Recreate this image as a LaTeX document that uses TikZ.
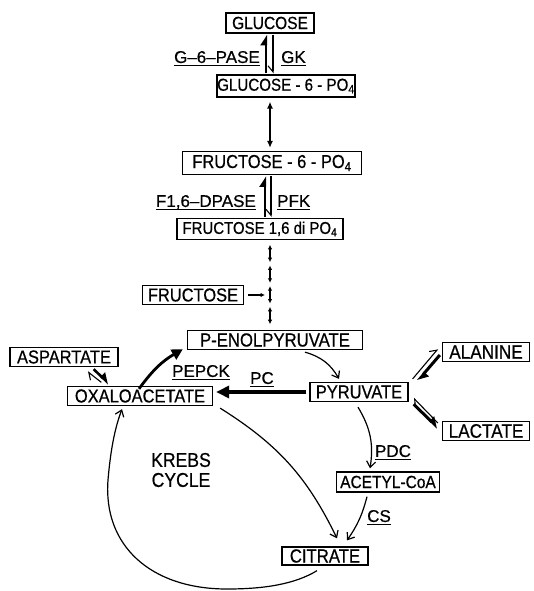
\documentclass[tikz,border=0pt]{standalone}
\usepackage{fontspec}
\setmainfont{Liberation Sans}[FakeStretch=0.88,FakeBold=0.6]
\newfontfamily\enzfont{Liberation Sans}[FakeBold=0.6]
\usetikzlibrary{arrows.meta,calc}
\begin{document}
\begin{tikzpicture}[x=1pt,y=-1pt,
  box/.style={draw,line width=1.3pt,inner sep=0pt,minimum height=20pt},
  fs/.style={font=\fontsize{#1}{#1}\selectfont},
  enz/.style={inner xsep=0pt,inner ysep=2.5pt,text depth=0pt,font=\enzfont\fontsize{17}{17}\selectfont,
    append after command={(\tikzlastnode.south west) edge[line width=1.2pt] (\tikzlastnode.south east)}},
  thinarr/.style={line width=1.2pt,-{Straight Barb[length=6pt,width=9pt,line width=1.2pt]}},
  thickarr/.style={line width=2.8pt,-{Triangle[length=11pt,width=11pt]}},
  bigarr/.style={line width=4.2pt,-{Triangle[length=13pt,width=12pt]}},
  dblarr/.style={line width=1.3pt,{Latex[length=7pt,width=6pt]}-{Latex[length=7pt,width=6pt]}},
  dotarr/.style={line width=1.3pt,{Latex[length=4.5pt,width=4.5pt]}-{Latex[length=4.5pt,width=4.5pt]}},
  smallarr/.style={line width=1.2pt,-{Latex[length=4.5pt,width=4.5pt]}},
  thickharp/.style={line width=2.9pt,-{Triangle[harpoon,length=9pt,width=11pt]}},
  thinharp/.style={line width=1.1pt,-{Straight Barb[harpoon,length=6pt,width=10pt,line width=1.1pt]}},
  thinharpsw/.style={line width=1.1pt,-{Straight Barb[harpoon,swap,length=6pt,width=10pt,line width=1.1pt]}}
]
\useasboundingbox (0,0) rectangle (534,591);

% metabolite boxes
\node[box,fs=17.6,minimum width=88pt] (glc) at (270,23) {GLUCOSE};
\node[box,fs=17.2,minimum width=138pt,minimum height=22pt] (g6p) at (286,86) {GLUCOSE - 6 - PO\textsubscript{4}};
\node[box,fs=18.7,minimum width=179pt,minimum height=23pt] (f6p) at (272,163) {FRUCTOSE - 6 - PO\textsubscript{4}};
\node[box,fs=17,minimum width=166pt,minimum height=21pt] (f16) at (260,229) {FRUCTOSE 1,6 di PO\textsubscript{4}};
\node[box,fs=18.7,minimum width=101pt,minimum height=19pt] (fru) at (193,295) {FRUCTOSE};
\node[box,fs=19,minimum width=175pt,minimum height=19pt] (pep) at (275,340) {P-ENOLPYRUVATE};
\node[box,fs=18.7,minimum width=108pt,minimum height=19pt] (asp) at (64,357) {ASPARTATE};
\node[box,fs=18.7,minimum width=145pt,minimum height=19pt] (oaa) at (140,396) {OXALOACETATE};
\node[box,fs=18.7,minimum width=98pt,minimum height=19pt] (pyr) at (359,392) {PYRUVATE};
\node[box,fs=19.5,minimum width=87pt,minimum height=19pt] (ala) at (486,352) {ALANINE};
\node[box,fs=19.5,minimum width=87pt,minimum height=19pt] (lac) at (486,431) {LACTATE};
\node[box,fs=17.6,minimum width=103pt,minimum height=20pt] (acc) at (388,482) {ACETYL-CoA};
\node[box,fs=19,minimum width=86pt,minimum height=18pt] (cit) at (325,556) {CITRATE};
\node[inner sep=0pt,align=center,font=\fontsize{20}{20}\selectfont] (krebs) at (181,470) {KREBS\\CYCLE};

% enzyme labels
\node[enz,anchor=east] (g6pase) at (260,57) {G–6–PASE};
\node[enz,anchor=west] (gk) at (281,57) {GK};
\node[enz,anchor=east] (fdp) at (256,201) {F1,6–DPASE};
\node[enz,anchor=west] (pfk) at (277,201) {PFK};
\node[enz] (pepck) at (201,371) {PEPCK};
\node[enz] (pc) at (262,378) {PC};
\node[enz] (pdc) at (393,451) {PDC};
\node[enz] (cs) at (379,516) {CS};

% glucose <-> glucose-6-P
\draw[thickharp,shorten <=1pt] ([xshift=-4pt]glc.south |- g6p.north) -- ([xshift=-4pt,yshift=-1pt]glc.south);
\draw[thinharpsw,shorten <=1pt] ([xshift=3pt]glc.south) -- ([xshift=3pt,yshift=1pt]glc.south |- g6p.north);

% G6P <-> F6P
\draw[dblarr,shorten <=4pt,shorten >=3pt] ([xshift=-16pt]g6p.south) -- ([xshift=-16pt]g6p.south |- f6p.north);

% F6P <-> F1,6diP
\draw[thickharp,shorten <=1pt] ([xshift=5pt]f16.north) -- ([xshift=5pt,yshift=-1pt]f16.north |- f6p.south);
\draw[thinharpsw,shorten <=1pt] ([xshift=11pt]f16.north |- f6p.south) -- ([xshift=11pt,yshift=1pt]f16.north);

% dotted chain F1,6diP ... PEP
\coordinate (dtop) at ([xshift=10pt,yshift=-3pt]f16.south);
\coordinate (dbot) at ([xshift=-5pt,yshift=4pt]pep.north);
\foreach \i [evaluate=\i as \a using \i/4+0.02, evaluate=\i as \b using (\i+1)/4-0.02] in {0,1,2,3}
  \draw[dotarr] ($(dtop)!\a!(dbot)$) -- ($(dtop)!\b!(dbot)$);
\draw[smallarr] ([xshift=4pt]fru.east) -- ([xshift=-5pt]fru.east -| dtop);

% oxaloacetate -> PEP
\draw[thickarr] ([xshift=-1pt,yshift=-3pt]oaa.north) to[bend left=12] ([xshift=-4pt,yshift=1pt]pep.south west);

% aspartate <-> oxaloacetate
\draw[thickharp,line width=2.6pt] ([xshift=-25pt,yshift=-2pt]asp.south east) -- ([xshift=42pt,yshift=2pt]oaa.north west);
\draw[thinharp] ([xshift=34.5pt,yshift=3.5pt]oaa.north west) -- ([xshift=-31pt,yshift=-4.5pt]asp.south east);

% pyruvate -> oxaloacetate
\draw[bigarr] ([xshift=-3pt]pyr.west) -- ([xshift=3pt]oaa.east |- pyr.west);

% PEP -> pyruvate
\draw[thinarr] ([xshift=30pt,yshift=-2pt]pep.south) to[bend left=22] ([xshift=-20pt,yshift=3pt]pyr.north);

% pyruvate <-> alanine
\draw[thinharp] ([xshift=4pt,yshift=3pt]pyr.north east) -- ([xshift=-4pt,yshift=3pt]ala.west);
\draw[thickharp,line width=3pt] ([xshift=-2pt,yshift=-3pt]ala.west) -- ([xshift=9pt,yshift=1pt]pyr.north east);

% pyruvate <-> lactate
\draw[thinharp] ([xshift=-4pt,yshift=8pt]lac.west) -- ([xshift=5pt,yshift=4pt]pyr.south east);
\draw[thickharp,line width=3pt] ([xshift=5pt,yshift=-2pt]pyr.south east) -- ([xshift=-4pt,yshift=3pt]lac.west);

% pyruvate -> acetyl-CoA
\draw[thinarr] ([xshift=-1pt,yshift=-5pt]pyr.south) to[bend left=20] ([xshift=-18pt,yshift=3pt]acc.north);

% acetyl-CoA -> citrate
\draw[thinarr] ([xshift=-21pt,yshift=-4pt]acc.south) to[bend left=10] ([xshift=22pt,yshift=6pt]cit.north);

% oxaloacetate -> citrate
\draw[thinarr] ([xshift=7pt,yshift=-2pt]oaa.south east) to[bend left=16] ([xshift=12pt,yshift=8pt]cit.north);

% citrate -> oxaloacetate (cycle)
\draw[thinarr] ([xshift=-8pt,yshift=-5pt]cit.south) .. controls (295,584) and (265,589) .. (227,589)
  .. controls (150,589) and (103,545) .. (108,480)
  .. controls (111,445) and (116,425) .. ([xshift=-18pt,yshift=-3pt]oaa.south);
\end{tikzpicture}
\end{document}
